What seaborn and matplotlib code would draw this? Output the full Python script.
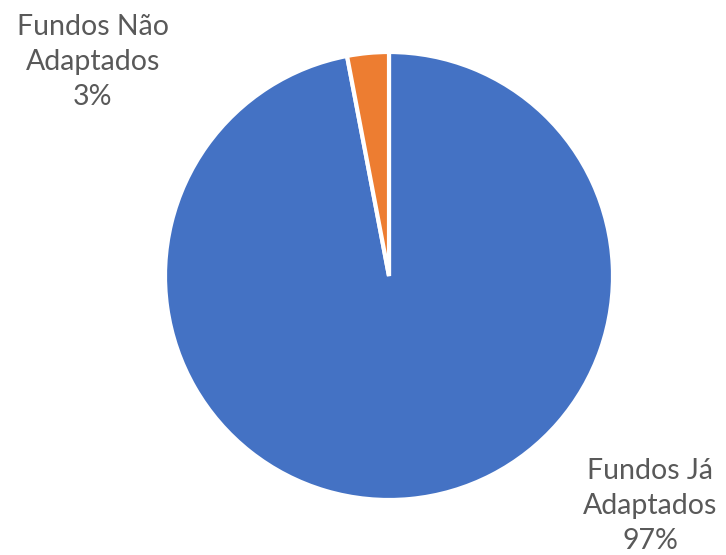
import matplotlib
matplotlib.use("Agg")
import matplotlib.pyplot as plt
import seaborn as sns

categories = ["Fundos Já\nAdaptados", "Fundos Não\nAdaptados"]
shares = [97, 3]
colors = ["#4472C4", "#ED7D31"]

sns.set_theme(style="white")
plt.rcParams["font.family"] = ["Lato", "DejaVu Sans"]

W, H = 726, 555
fig = plt.figure(figsize=(W / 100, H / 100), dpi=100)
cx, cy, r = 389, 276, 224
ax = fig.add_axes([(cx - r) / W, (H - cy - r) / H, 2 * r / W, 2 * r / H])

ax.pie(shares, colors=sns.color_palette(colors), startangle=90, counterclock=False,
       radius=1, wedgeprops=dict(edgecolor="white", linewidth=3))
ax.set_xlim(-1, 1)
ax.set_ylim(-1, 1)
ax.axis("off")

label_pos = [(650, 506), (93, 62)]
for cat, val, (px, py) in zip(categories, shares, label_pos):
    fig.text(px / W, 1 - py / H, f"{cat}\n{val}%", ha="center", va="center",
             fontsize=20.5, color="#595959", linespacing=1.42)

fig.savefig("out.png", dpi=100)
